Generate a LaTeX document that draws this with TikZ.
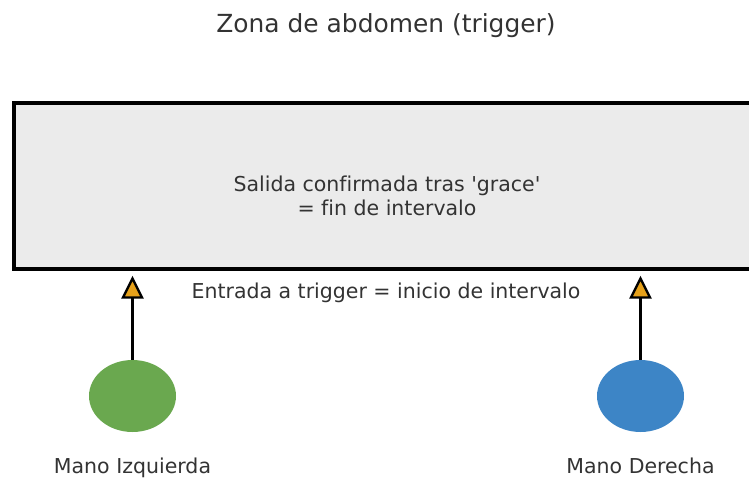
\documentclass[tikz,border=0pt]{standalone}
\usepackage{fontspec}
\setmainfont{DejaVu Sans}[Ligatures=NoCommon]
\usetikzlibrary{shapes.geometric}
\definecolor{txt}{HTML}{333333}
\definecolor{zonefill}{HTML}{EBEBEB}
\definecolor{lhand}{HTML}{6AA84F}
\definecolor{rhand}{HTML}{3D85C6}
\definecolor{tipc}{HTML}{E6A11A}
\tikzset{
  lbl/.style={text=txt,font=\fontsize{20.5}{24}\selectfont,inner sep=0pt},
  ttl/.style={text=txt,font=\fontsize{24.9}{28}\selectfont,inner sep=0pt},
  zonebox/.style={draw=black,line width=3.6pt,fill=zonefill,minimum width=746pt,minimum height=166pt,inner sep=0pt},
  hand/.style={ellipse,minimum width=87pt,minimum height=72pt,inner sep=0pt,draw=none},
  trigline/.style={line width=3pt,draw=black},
  trighead/.style={fill=tipc,draw=black,line width=2.3pt,line join=miter}
}
\begin{document}
\begin{tikzpicture}[x=1pt,y=-1pt]
\useasboundingbox (0,0) rectangle (749,479);
\clip (0,0) rectangle (749,479);
\node[ttl,anchor=base] (title) at (386,32) {Zona de abdomen (trigger)};
\node[zonebox] (zone) at (387,186) {};
\node[lbl,align=center] (zonetxt) at (387,196) {Salida confirmada tras \textquotesingle grace\textquotesingle\\= fin de intervalo};
\node[lbl,anchor=base] (entry) at (386,298) {Entrada a trigger = inicio de intervalo};
\node[hand,fill=lhand] (lh) at (132.5,396) {};
\node[hand,fill=rhand] (rh) at (640.5,396) {};
\node[lbl,anchor=base] (lhl) at (132.5,473) {Mano Izquierda};
\node[lbl,anchor=base] (rhl) at (640.5,473) {Mano Derecha};
\coordinate (tl) at (132.5,278.5);
\coordinate (bl) at (132.5,297.5);
\coordinate (tr) at (640.5,278.5);
\coordinate (br) at (640.5,297.5);
\draw[trigline] (lh.north) -- (bl);
\draw[trigline] (rh.north) -- (br);
\draw[trighead] (tl) -- ++(9.5,19) -- ++(-19,0) -- cycle;
\draw[trighead] (tr) -- ++(9.5,19) -- ++(-19,0) -- cycle;
\end{tikzpicture}
\end{document}
